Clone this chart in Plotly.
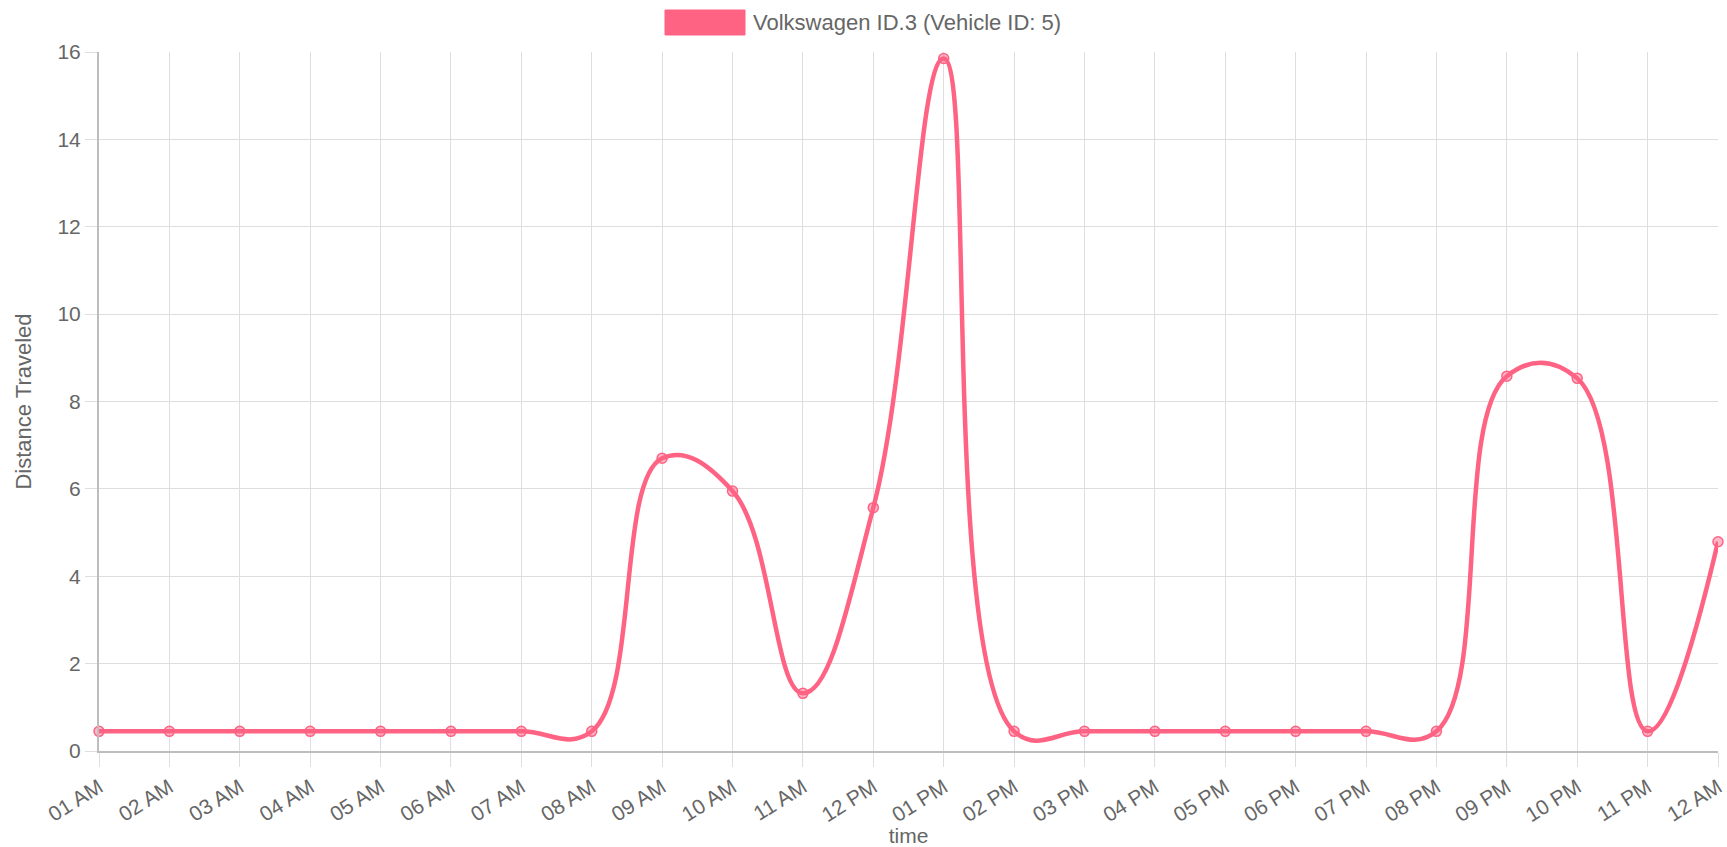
import plotly.graph_objects as go

# Hourly labels for the day
hours = ["01 AM", "02 AM", "03 AM", "04 AM", "05 AM", "06 AM", "07 AM", "08 AM",
         "09 AM", "10 AM", "11 AM", "12 PM", "01 PM", "02 PM", "03 PM", "04 PM",
         "05 PM", "06 PM", "07 PM", "08 PM", "09 PM", "10 PM", "11 PM", "12 AM"]

# Distance travelled in each hour
distance = [0.45, 0.45, 0.45, 0.45, 0.45, 0.45, 0.45, 0.45,
            6.70, 5.95, 1.32, 5.57, 15.85, 0.45, 0.45, 0.45,
            0.45, 0.45, 0.45, 0.45, 8.58, 8.53, 0.45, 4.79]

series_name = "Volkswagen ID.3 (Vehicle ID: 5)"
pink = "#ff6384"
text_grey = "#666666"
grid_grey = "#dedede"
axis_grey = "#bdbdbd"
font_family = "Liberation Sans, Arial, sans-serif"

W, H = 1727, 847
ML, MR, MT, MB = 99, 9, 52, 96

fig = go.Figure()
fig.add_trace(go.Scatter(
    x=hours, y=distance, name=series_name,
    mode="lines+markers",
    line=dict(color=pink, width=4.5, shape="spline", smoothing=1.2),
    marker=dict(size=10, color="rgba(255,99,132,0.45)", line=dict(color=pink, width=1.5)),
    cliponaxis=False, showlegend=False,
))

# Legend drawn as a coloured box and a label centred above the plot
pw = W - ML - MR
ph = H - MT - MB
def px_x(p):
    return (p - ML) / pw
def px_y(p):
    return (H - MB - p) / ph

fig.add_shape(type="rect", xref="paper", yref="paper",
              x0=px_x(665), x1=px_x(745), y0=px_y(35), y1=px_y(10),
              fillcolor=pink, line=dict(color=pink, width=1))
fig.add_annotation(xref="paper", yref="paper", x=px_x(751), y=px_y(22),
                   xanchor="left", yanchor="middle", showarrow=False,
                   text=series_name, font=dict(size=22, color=text_grey, family=font_family))

fig.update_layout(
    width=W, height=H,
    margin=dict(l=ML, r=MR, t=MT, b=MB, autoexpand=False),
    paper_bgcolor="white", plot_bgcolor="white",
    font=dict(family=font_family, color=text_grey, size=21),
    xaxis=dict(
        type="category", range=[0, len(hours) - 1], automargin=False,
        tickangle=-32, ticks="outside", ticklen=14, tickcolor=grid_grey,
        showgrid=True, gridcolor=grid_grey, gridwidth=1,
        showline=True, linecolor=axis_grey, linewidth=2,
        tickfont=dict(size=21, color=text_grey),
        title=dict(text="time", font=dict(size=21, color=text_grey), standoff=10),
        zeroline=False,
    ),
    yaxis=dict(
        range=[0, 16], dtick=2, tick0=0, automargin=False,
        ticks="outside", ticklen=12, tickcolor=grid_grey,
        showgrid=True, gridcolor=grid_grey, gridwidth=1,
        showline=True, linecolor=axis_grey, linewidth=2,
        tickfont=dict(size=21, color=text_grey),
        title=dict(text="Distance Traveled", font=dict(size=22, color=text_grey), standoff=20),
        zeroline=False,
    ),
)

fig.write_html("out.html")
